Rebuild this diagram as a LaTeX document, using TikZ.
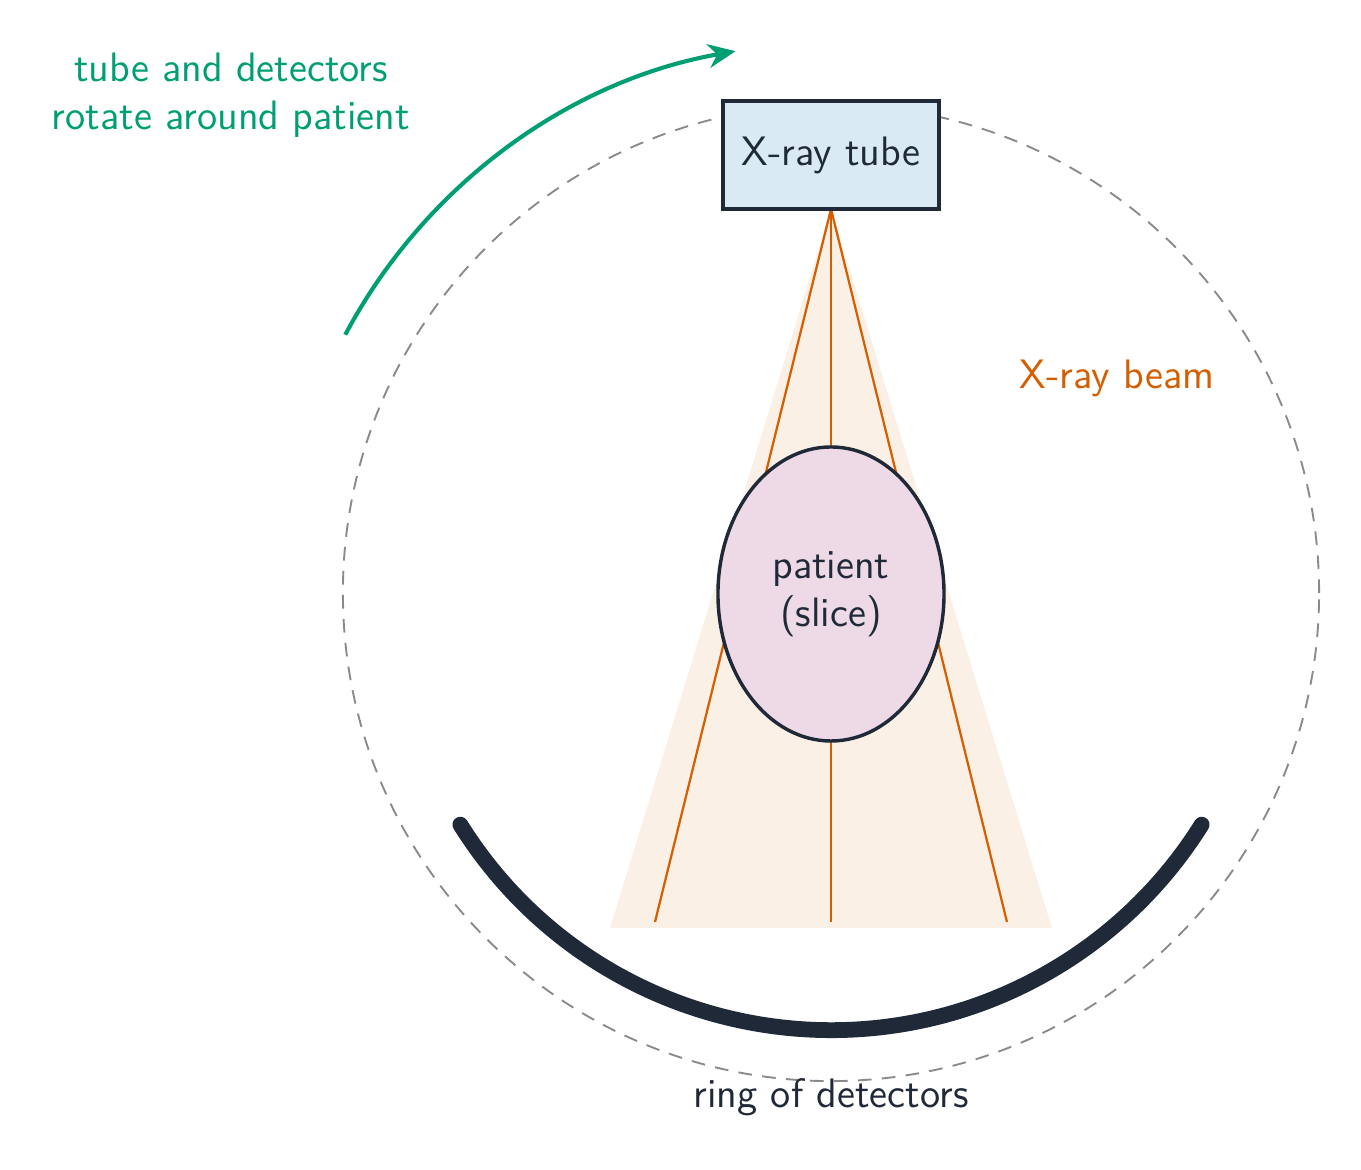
\documentclass[tikz,border=0pt]{standalone}
\usetikzlibrary{arrows.meta,shapes.geometric}
\definecolor{navy}{HTML}{1F2937}
\definecolor{beamcol}{HTML}{D55E00}
\definecolor{beamfill}{HTML}{FBF0E6}
\definecolor{tubefill}{HTML}{DAEAF3}
\definecolor{patfill}{HTML}{EED9E6}
\definecolor{rotgreen}{HTML}{009E73}
\definecolor{ringgray}{HTML}{8A8A8A}
\tikzset{
  lbl/.style={font=\sffamily\large, inner sep=0pt},
  tubebox/.style={draw=navy, fill=tubefill, line width=1pt, rectangle,
    minimum width=2.215cm, minimum height=1.108cm, inner sep=0pt,
    font=\sffamily\large, text=navy},
  patbox/.style={draw=navy, fill=patfill, line width=1pt, ellipse,
    minimum width=2.318cm, minimum height=3.015cm, inner sep=0pt,
    font=\sffamily\large, text=navy, align=center},
  ray/.style={draw=beamcol, line width=0.65pt},
  ringpath/.style={draw=ringgray, line width=0.55pt, dash pattern=on 4pt off 3pt},
  detector/.style={draw=navy, line width=4.6pt, line cap=round},
  rotarrow/.style={draw=rotgreen, line width=1.2pt, -{Stealth[length=8pt,width=7pt]}}
}
\begin{document}
\begin{tikzpicture}[x=0.010256cm, y=0.010256cm]
\useasboundingbox (0,0) rectangle (1361,1170);
\coordinate (c) at (831,577);
% beam
\coordinate (apex) at (831,961);
\coordinate (bl) at (610,242);
\coordinate (br) at (1052,242);
\fill[beamfill] (apex) -- (bl) -- (br) -- cycle;
\coordinate (r1) at (655,248);
\coordinate (r2) at (831,248);
\coordinate (r3) at (1007,248);
\draw[ray] (apex) -- (r1);
\draw[ray] (apex) -- (r2);
\draw[ray] (apex) -- (r3);
% ring path
\draw[ringpath] (c) circle (5.005cm);
% tube
\node[tubebox] (tube) at (831,1015) {X-ray tube};
% patient
\node[patbox] (patient) at (831,576) {patient\\(slice)};
% detectors
\draw[detector] ([shift={(212:4.482cm)}]c) arc[start angle=212,end angle=328,radius=4.482cm];
% rotation arrow
\draw[rotarrow] ([shift={(152:5.641cm)}]c) arc[start angle=152,end angle=100,radius=5.641cm];
% labels
\node[lbl, text=navy] (ringlbl) at (831,73) {ring of detectors};
\node[lbl, text=beamcol] (beamlbl) at (1117,792) {X-ray beam};
\node[lbl, text=rotgreen, align=center] (rotlbl) at (231,1075) {tube and detectors\\rotate around patient};
\end{tikzpicture}
\end{document}
